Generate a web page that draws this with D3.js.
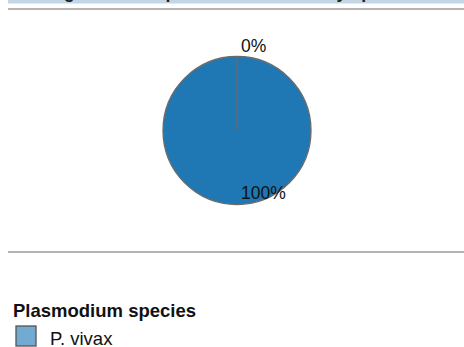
<!DOCTYPE html>
<html>
<head>
<meta charset="utf-8">
<script src="https://cdn.jsdelivr.net/npm/d3@7"></script>
<style>
  html, body { margin: 0; padding: 0; background: #fff; }
  svg { display: block; font-family: Arial, "Liberation Sans", sans-serif; }
</style>
</head>
<body>
<svg id="chart" width="464" height="347"></svg>
<script>
// Share of reported cases by parasite species
const title = "Average rate of reported local cases by species";
const species = ["P. falciparum", "P. vivax"];
const shares = [0, 100];
const sliceColors = ["#1f77b4", "#1f77b4"];
const legendTitle = "Plasmodium species";
const legendItems = ["P. vivax"];
const legendColors = ["#72aad2"];

const svg = d3.select("#chart");
const W = 464;

// header band (the panel is scrolled so only its lower edge shows)
svg.append("rect").attr("x", 8).attr("y", -20).attr("width", W - 8).attr("height", 23.5)
  .attr("fill", "#c3d6e5");
svg.append("text").attr("x", 15).attr("y", -1.6)
  .attr("font-size", 17.8).attr("font-weight", "bold").attr("fill", "#222")
  .text(title);

// separators
svg.append("line").attr("x1", 8).attr("x2", W).attr("y1", 9).attr("y2", 9)
  .attr("stroke", "#b4b4b4").attr("stroke-width", 2);
svg.append("line").attr("x1", 8).attr("x2", W).attr("y1", 252).attr("y2", 252)
  .attr("stroke", "#b4b4b4").attr("stroke-width", 2);

// pie
const cx = 237, cy = 130.5, r = 74;
const pie = d3.pie().sort(null).value(d => d)(shares);
const arc = d3.arc().innerRadius(0).outerRadius(r);
const g = svg.append("g").attr("transform", `translate(${cx},${cy})`);
g.selectAll("path").data(pie).join("path")
  .attr("d", arc)
  .attr("fill", (d, i) => sliceColors[i])
  .attr("stroke", "#6a6a6a").attr("stroke-width", 1.3);

// slice boundaries (a full circle has no radial edge of its own)
g.selectAll("line.edge").data(pie.filter(d => d.endAngle - d.startAngle < 2 * Math.PI)).join("line")
  .attr("class", "edge")
  .attr("x1", 0).attr("y1", 0)
  .attr("x2", d => r * Math.sin(d.startAngle))
  .attr("y2", d => -r * Math.cos(d.startAngle))
  .attr("stroke", "#6a6a6a").attr("stroke-width", 1.3);

// percentage labels
const labelRadius = [r + 5, r * 0.9];
g.selectAll("text.pct").data(pie).join("text").attr("class", "pct")
  .attr("x", 4)
  .attr("y", (d, i) => {
    const a = (d.startAngle + d.endAngle) / 2;
    return -Math.cos(a) * labelRadius[i] + (i === 1 ? 2 : 0);
  })
  .attr("font-size", 17.5).attr("fill", "#111")
  .text(d => Math.round(d.data) + "%");

// legend
svg.append("text").attr("x", 13).attr("y", 317)
  .attr("font-size", 18.5).attr("font-weight", "bold").attr("fill", "#111")
  .text(legendTitle);
const lg = svg.selectAll("g.item").data(legendItems).join("g").attr("class", "item")
  .attr("transform", (d, i) => `translate(16,${326 + i * 24})`);
lg.append("rect").attr("width", 20).attr("height", 20)
  .attr("fill", (d, i) => legendColors[i]).attr("stroke", "#555").attr("stroke-width", 1.3);
lg.append("text").attr("x", 34).attr("y", 18.5)
  .attr("font-size", 18.5).attr("fill", "#111")
  .text(d => d);
</script>
</body>
</html>
